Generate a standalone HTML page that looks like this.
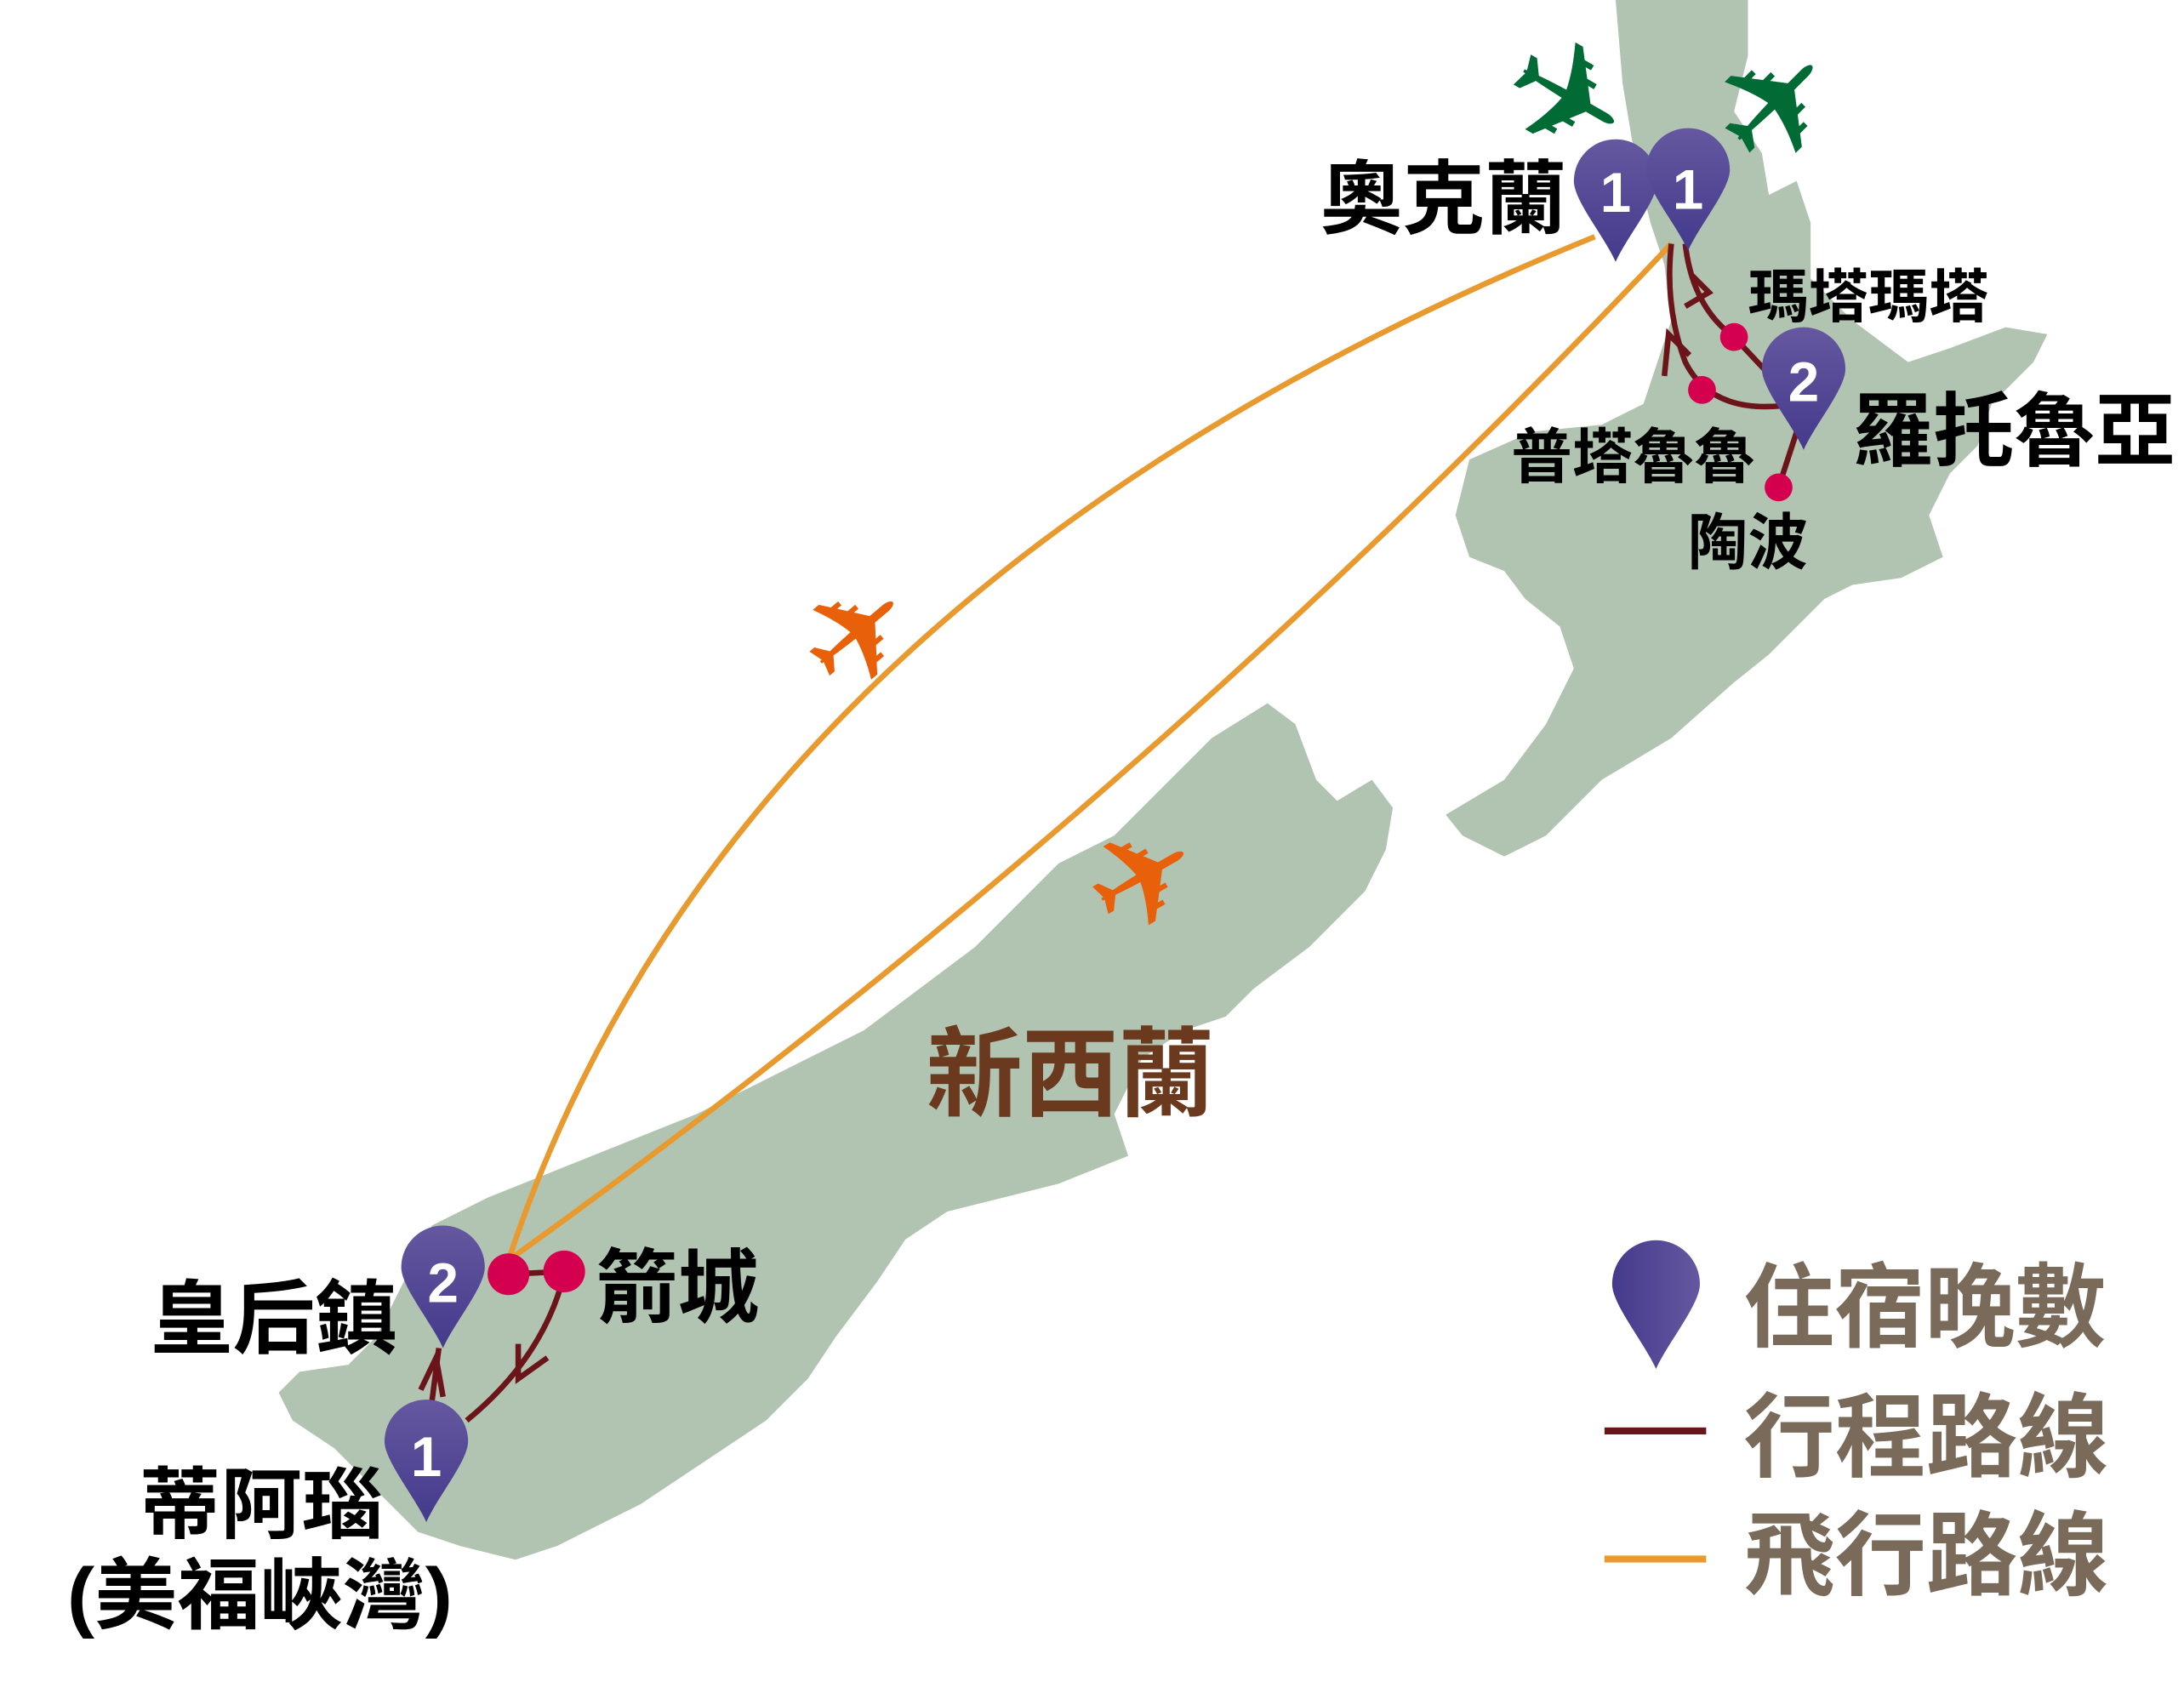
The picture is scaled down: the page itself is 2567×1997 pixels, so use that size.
<!DOCTYPE html>
<html><head><meta charset="utf-8"><style>
html,body{margin:0;padding:0;background:#fff;}
svg{display:block;}
text{font-family:"Liberation Sans","Noto Sans CJK TC",sans-serif;font-weight:bold;}
.pl{font-family:"DejaVu Sans",sans-serif;font-weight:normal;}
</style></head><body>
<svg width="2567" height="1997" viewBox="0 0 1568 1220" xmlns="http://www.w3.org/2000/svg">
<defs>
<linearGradient id="pg" x1="0" y1="0" x2="0" y2="1"><stop offset="0" stop-color="#6558a0"/><stop offset="1" stop-color="#443a8c"/></linearGradient>
<linearGradient id="pg2" x1="0" y1="0" x2="1" y2="0"><stop offset="0" stop-color="#443a8c"/><stop offset="1" stop-color="#6558a0"/></linearGradient>
<path id="pin" d="M0,0 C-8,-18 -30,-44 -30,-58 A30,30 0 1 1 30,-58 C30,-44 8,-18 0,0 Z"/>
</defs>
<g fill="#b1c4b1">
<polygon points="1160,0 1255,0 1255,40 1245,80 1265,110 1270,140 1290,130 1300,160 1300,200 1330,230 1370,260 1400,250 1440,235 1470,240 1460,260 1430,290 1420,320 1400,340 1385,370 1395,400 1365,415 1330,420 1310,430 1290,450 1270,470 1245,490 1200,530 1150,560 1110,600 1080,615 1050,600 1038,585 1080,560 1110,520 1130,480 1120,450 1095,430 1080,410 1055,400 1045,370 1055,330 1100,310 1150,305 1180,290 1190,260 1200,230 1195,190 1185,160 1175,120 1165,60"/>
<polygon points="910,505 930,520 945,560 960,575 985,560 1000,580 995,610 980,640 940,680 900,710 880,730 850,740 820,760 800,800 810,830 760,850 720,860 680,870 650,890 630,920 600,960 580,990 550,1020 520,1040 490,1060 460,1080 430,1095 400,1110 370,1120 330,1110 300,1100 280,1080 240,1040 210,1020 200,1000 215,985 250,980 270,960 290,920 310,880 350,860 400,840 450,820 500,800 540,780 580,760 620,740 660,710 700,680 730,650 760,620 800,600 840,560 870,530"/>
</g>
<g fill="none" stroke="#e89a2e" stroke-width="4">
<path d="M365,905 Q525,422 1145,170"/>
<path d="M365,905 Q818,580 1200,175"/>
</g>
<g fill="none" stroke="#6b1419" stroke-width="4">
<path d="M305,1045 L315,968"/>
<path d="M302,998 L313,975 L318,1003"/>
<path d="M335,1020 Q390,975 405,915"/>
<path d="M372,965 L372,990 L393,975"/>
<path d="M365,915 L405,913"/>
<path d="M1210,175 Q1215,220 1245,242 L1290,290"/>
<path d="M1210,220 L1227,210 L1215,198"/>
<path d="M1290,290 Q1230,300 1210,260 Q1195,220 1200,175"/>
<path d="M1195,270 L1198,240 L1213,255"/>
<path d="M1290,310 L1277,350"/>
</g>
<g fill="#d4004f">
<circle cx="365" cy="915" r="15"/><circle cx="405" cy="913" r="15"/>
<circle cx="1245" cy="242" r="10"/><circle cx="1222" cy="280" r="10"/><circle cx="1277" cy="350" r="10"/>
</g>
<g fill="#006b34" font-size="105"><text class="pl" x="1125" y="107" text-anchor="middle" transform="rotate(30 1125 70)">✈</text>
<text class="pl" x="1275" y="112" text-anchor="middle" transform="rotate(-45 1275 75)">✈</text></g>
<g fill="#e8600a" font-size="95"><text class="pl" x="615" y="489" text-anchor="middle" transform="rotate(-40 615 455)">✈</text>
<text class="pl" x="820" y="664" text-anchor="middle" transform="rotate(-30 820 630)">✈</text></g>
<g fill="url(#pg)">
<use href="#pin" x="1160" y="188"/><use href="#pin" x="1212" y="180"/>
<use href="#pin" x="1295" y="323"/><use href="#pin" x="318" y="968"/><use href="#pin" x="306" y="1093"/>
</g>
<g fill="#fff" font-size="40" text-anchor="middle">
<text x="1160" y="152">1</text><text x="1212" y="150">1</text><text x="1295" y="288">2</text>
<text x="318" y="935">2</text><text x="306" y="1060">1</text>
</g>
<g fill="#000">
<text x="948" y="163" font-size="58" textLength="177" lengthAdjust="spacingAndGlyphs">奧克蘭</text>
<text x="1255" y="228" font-size="42" textLength="173" lengthAdjust="spacingAndGlyphs">瑪塔瑪塔</text>
<text x="1330" y="330" font-size="58" textLength="232" lengthAdjust="spacingAndGlyphs">羅托魯亞</text>
<text x="1085" y="343" font-size="43" textLength="175" lengthAdjust="spacingAndGlyphs">普塔魯魯</text>
<text x="1212" y="405" font-size="44" textLength="86" lengthAdjust="spacingAndGlyphs">陶波</text>
<text x="428" y="945" font-size="58" textLength="117" lengthAdjust="spacingAndGlyphs">箭城</text>
<text x="108" y="967" font-size="58" textLength="177" lengthAdjust="spacingAndGlyphs">皇后鎮</text>
<text x="100" y="1100" font-size="56" textLength="175" lengthAdjust="spacingAndGlyphs">蒂阿瑙</text>
<text x="48" y="1165" font-size="56" textLength="277" lengthAdjust="spacingAndGlyphs">(美福峽灣)</text>
</g>
<text x="665" y="796" font-size="70" fill="#6b3a1e" textLength="207" lengthAdjust="spacingAndGlyphs">新西蘭</text>
<g transform="translate(1189,983) scale(1.05)" fill="url(#pg2)"><use href="#pin"/></g>
<rect x="1152" y="1025" width="73" height="5" fill="#6b1419"/>
<rect x="1152" y="1117" width="73" height="5" fill="#e89a2e"/>
<g fill="#7a6a5a" font-size="66">
<text x="1252" y="962" textLength="260" lengthAdjust="spacingAndGlyphs">住宿晚數</text>
<text x="1252" y="1055" textLength="262" lengthAdjust="spacingAndGlyphs">行程路線</text>
<text x="1252" y="1140" textLength="262" lengthAdjust="spacingAndGlyphs">飛行路線</text>
</g>
</svg>
</body></html>
